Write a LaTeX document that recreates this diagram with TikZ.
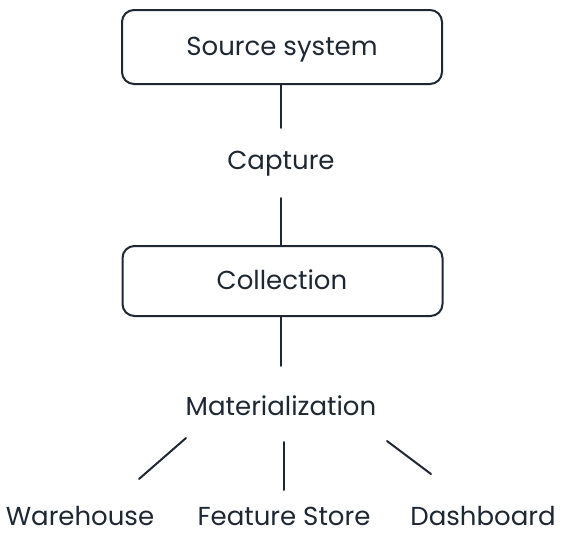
\documentclass[tikz,border=0pt]{standalone}
\usepackage{fontspec}
\setmainfont{Poppins}
\usetikzlibrary{calc}
\definecolor{ink}{HTML}{1E2833}
\tikzset{
  box/.style={draw=ink, line width=2pt, rounded corners=12pt, minimum width=320pt, inner sep=0pt},
  lbl/.style={text=ink, font=\fontsize{26}{30}\selectfont, inner sep=0pt, text height=18pt, text depth=2pt},
  conn/.style={draw=ink, line width=2pt, line cap=round}
}
\begin{document}
\begin{tikzpicture}[x=1pt,y=-1pt]
\useasboundingbox[fill=white] (0,0) rectangle (566,546);
\node[box, minimum height=74pt] (src) at (282,47) {};
\node[lbl] (srct) at (282,47) {Source system};
\node[lbl] (cap) at (281,161) {Capture};
\node[box, minimum height=70pt] (col) at (282.5,281) {};
\node[lbl] (colt) at (282,281) {Collection};
\node[lbl] (mat) at (281,407) {Materialization};
\node[lbl] (wh) at (80,517) {Warehouse};
\node[lbl] (fs) at (284,517) {Feature Store};
\node[lbl] (db) at (483,517) {Dashboard};
\coordinate (m1) at (186,438);
\coordinate (w1) at (139,479);
\coordinate (m2) at (284,442);
\coordinate (f2) at (284,490);
\coordinate (m3) at (387,441);
\coordinate (d3) at (431,474);
\draw[conn, shorten >=23pt] (src.south -| cap) -- (cap.north);
\draw[conn, shorten <=27pt] (cap.south) -- (col.north -| cap);
\draw[conn, shorten >=31pt] (col.south -| mat) -- (mat.north);
\draw[conn] (m1) -- (w1);
\draw[conn] (m2) -- (f2);
\draw[conn] (m3) -- (d3);
\end{tikzpicture}
\end{document}
